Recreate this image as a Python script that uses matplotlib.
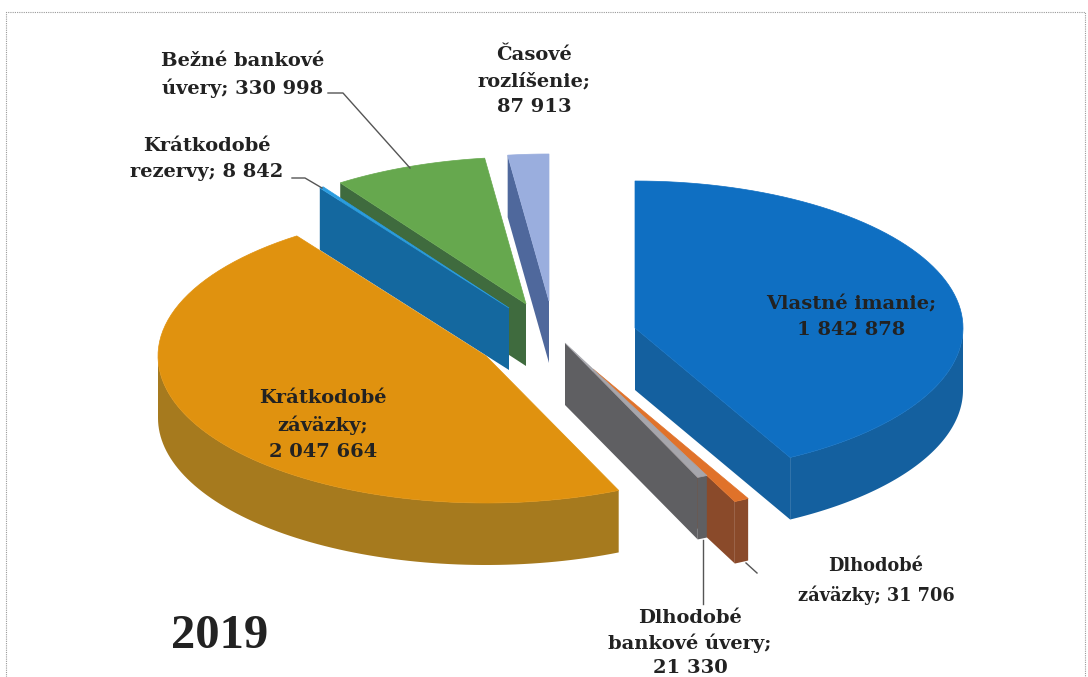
import numpy as np
import matplotlib
matplotlib.use('Agg')
import matplotlib.pyplot as plt

# hodnoty z grafu, v smere hodinovych ruciciek od vrchu
hodnoty = [1842878, 31706, 21330, 2047664, 8842, 330998, 87913]
nazvy = ['Vlastné imanie', 'Dlhodobé záväzky', 'Dlhodobé bankové úvery',
         'Krátkodobé záväzky', 'Krátkodobé rezervy', 'Bežné bankové úvery',
         'Časové rozlíšenie']

farby_hore = ['#0f6fc2', '#e0722a', '#a6a6ac', '#e0920f', '#2a9ce0', '#66a84e', '#9aaede']
farby_bok = ['#14609f', '#8a4a2a', '#5f5f62', '#a67a1e', '#14689f', '#3f6b3e', '#4f689c']

# stred kazdeho vyseku (vysunuty kolac), v pixeloch
stred_x = [635, 593, 565, 486, 509, 526, 549]
stred_y = [328, 369, 343, 356, 308, 304, 301]
rx, ry, hlbka = 328, 147, 62


def bod(cx, cy, t):
    return cx + rx * np.sin(np.radians(t)), cy - ry * np.cos(np.radians(t))


def obluk(cx, cy, t1, t2):
    t = np.linspace(t1, t2, 80)
    return bod(cx, cy, t)


def stena(ax, p1, p2, farba):
    xs = [p1[0], p2[0], p2[0], p1[0]]
    ys = [p1[1], p2[1], p2[1] + hlbka, p1[1] + hlbka]
    ax.fill(xs, ys, color=farba, lw=0)


fig = plt.figure(figsize=(10.88, 6.77), dpi=100)
ax = fig.add_axes([0, 0, 1, 1])
ax.set_xlim(0, 1088)
ax.set_ylim(677, 0)
ax.axis('off')

uhly = np.cumsum([0] + hodnoty) / sum(hodnoty) * 360
poradie = [6, 5, 4, 3, 1, 2, 0]

for i in poradie:
    t1, t2 = uhly[i], uhly[i + 1]
    cx, cy = stred_x[i], stred_y[i]
    if t1 >= 270:
        stena(ax, (cx, cy), bod(cx, cy, t1), farby_bok[i])
    if 90 < t2 < 230:
        stena(ax, (cx, cy), bod(cx, cy, t2), farby_bok[i])
    a, b = max(t1, 90), min(t2, 270)
    if a < b:
        x, y = obluk(cx, cy, a, b)
        ax.fill(np.r_[x, x[::-1]], np.r_[y, y[::-1] + hlbka], color=farby_bok[i], lw=0)
    x, y = obluk(cx, cy, t1, t2)
    ax.fill(np.r_[cx, x], np.r_[cy, y], color=farby_hore[i], lw=0.5)

# vodiace ciary
ciara = dict(color='#555555', lw=1)
ax.plot([328, 343, 410], [93, 93, 168], **ciara)
ax.plot([292, 305, 322], [178, 178, 188], **ciara)
ax.plot([703, 703], [540, 604], **ciara)
ax.plot([746, 757], [563, 573], **ciara)

# ramik
ram = dict(color='#999999', lw=0.8, ls=(0, (1, 1)))
ax.plot([6, 6, 1085, 1085], [677, 12, 12, 677], **ram)

pismo = dict(family='DejaVu Serif', weight='bold', color='#222222', ha='center', va='center',
             fontsize=14, linespacing=1.55)
ax.text(243, 75, 'Bežné bankové\núvery; 330 998', **pismo)
ax.text(534, 81, 'Časové\nrozlíšenie;\n87 913', **pismo)
ax.text(207, 159, 'Krátkodobé\nrezervy; 8 842', **pismo)
ax.text(851, 317, 'Vlastné imanie;\n1 842 878', **pismo)
ax.text(323, 425, 'Krátkodobé\nzáväzky;\n2 047 664', **pismo)
ax.text(876, 581, 'Dlhodobé\nzáväzky; 31 706', family='DejaVu Serif', weight='bold', color='#222222',
        ha='center', va='center', fontsize=12.8, linespacing=1.68)
ax.text(690, 643, 'Dlhodobé\nbankové úvery;\n21 330', family='DejaVu Serif', weight='bold', color='#222222',
        ha='center', va='center', fontsize=14, linespacing=1.42)
ax.text(220, 636, '2019', family='Liberation Serif', weight='bold', color='#222222',
        ha='center', va='center', fontsize=35)

fig.savefig('out.png', dpi=100, facecolor='white')
